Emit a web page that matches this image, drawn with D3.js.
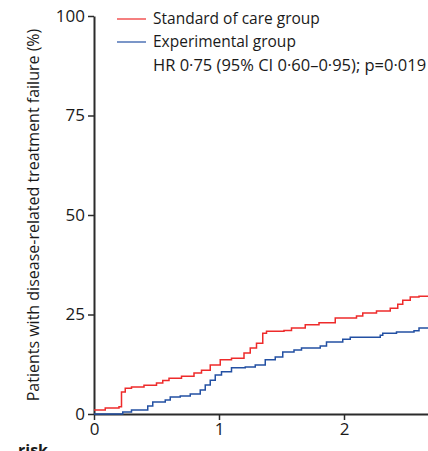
<!DOCTYPE html>
<html>
<head>
<meta charset="utf-8">
<script src="https://cdn.jsdelivr.net/npm/d3@7"></script>
<style>
  body { margin: 0; background: #fff; }
  text { font-family: "Open Sans", sans-serif; fill: #1a1a1a; }
</style>
</head>
<body>
<svg id="chart" width="428" height="451"></svg>
<script>
// cumulative incidence (years, %)
var careTimes = [0, 0.09, 0.2, 0.22, 0.25, 0.3, 0.4, 0.5, 0.55, 0.6, 0.7, 0.8, 0.86, 0.93, 1.01, 1.1, 1.2, 1.25, 1.3, 1.35, 1.38, 1.52, 1.58, 1.69, 1.8, 1.93, 2.1, 2.15, 2.26, 2.37, 2.43, 2.47, 2.53, 2.6, 2.7];
var careValues = [1.0, 1.5, 1.8, 5.5, 6.5, 6.8, 7.2, 7.8, 8.4, 9.0, 9.5, 10.3, 11.0, 12.3, 13.6, 14.0, 15.3, 16.6, 17.8, 20.3, 20.8, 21.0, 21.6, 22.4, 22.9, 24.1, 24.6, 25.4, 25.9, 26.6, 27.6, 28.6, 29.4, 29.6, 29.6];
var expTimes = [0, 0.23, 0.3, 0.43, 0.47, 0.57, 0.61, 0.69, 0.77, 0.85, 0.89, 0.93, 0.97, 1.02, 1.1, 1.21, 1.29, 1.37, 1.45, 1.51, 1.6, 1.66, 1.81, 1.86, 1.99, 2.05, 2.29, 2.31, 2.42, 2.56, 2.6, 2.7];
var expValues = [0, 0.5, 1.0, 2.0, 3.0, 3.5, 4.3, 4.5, 5.0, 6.0, 7.3, 8.5, 9.8, 10.6, 11.6, 11.8, 12.3, 13.6, 14.3, 15.6, 16.1, 16.6, 17.1, 18.1, 18.8, 19.3, 19.8, 20.3, 20.6, 20.9, 21.6, 21.6];
var yTicks = [0, 25, 50, 75, 100];
var xTicks = [0, 1, 2];
var legendLabels = ["Standard of care group", "Experimental group"];
var statsLabel = "HR 0·75 (95% CI 0·60–0·95); p=0·019";
var yTitle = "Patients with disease-related treatment failure (%)";

var svg = d3.select("#chart");
var x0 = 94, y0 = 414;

var x = d3.scaleLinear().domain([0, 2.7]).range([x0, x0 + 2.7 * 125]);
var y = d3.scaleLinear().domain([0, 100]).range([y0, 16]);

var line = d3.line()
    .x(function(d) { return x(d[0]); })
    .y(function(d) { return y(d[1]); })
    .curve(d3.curveStepAfter);

var series = [
    {name: legendLabels[0], color: "#ee2b2b", pts: d3.zip(careTimes, careValues)},
    {name: legendLabels[1], color: "#2350a3", pts: d3.zip(expTimes, expValues)}
];

// axes
var yAxis = svg.append("g")
    .attr("transform", "translate(" + x0 + ",0)")
    .call(d3.axisLeft(y).tickValues(yTicks).tickFormat(d3.format("d"))
        .tickSize(6).tickPadding(3).tickSizeOuter(0));
var xAxis = svg.append("g")
    .attr("transform", "translate(0," + y0 + ")")
    .call(d3.axisBottom(x).tickValues(xTicks).tickFormat(d3.format("d"))
        .tickSize(6).tickPadding(3).tickSizeOuter(0));

[yAxis, xAxis].forEach(function(a) {
    a.selectAll(".domain").attr("stroke", "#2b2b2b").attr("stroke-width", 2);
    a.selectAll(".tick line").attr("stroke", "#2b2b2b").attr("stroke-width", 1.5);
    a.selectAll(".tick text").style("font-family", "'Open Sans', sans-serif")
        .style("font-size", "17px").attr("fill", "#1a1a1a");
});

series.forEach(function(s) {
    svg.append("path")
        .datum(s.pts)
        .attr("fill", "none")
        .attr("stroke", s.color)
        .attr("stroke-width", 1.5)
        .attr("d", line);
});

// y title
svg.append("text")
    .attr("transform", "translate(39,215) rotate(-90)")
    .attr("text-anchor", "middle")
    .style("font-size", "16px")
    .text(yTitle);

// legend
var legend = svg.selectAll(".legend")
    .data(series)
    .enter().append("g")
    .attr("class", "legend")
    .attr("transform", function(d, i) { return "translate(117," + (19 + i * 23) + ")"; });

legend.append("line")
    .attr("x1", 0).attr("x2", 29)
    .attr("stroke", function(d) { return d.color; })
    .attr("stroke-width", 1.2);

legend.append("text")
    .attr("x", 36)
    .attr("dy", "0.35em")
    .style("font-size", "15.5px")
    .text(function(d) { return d.name; });

svg.append("text")
    .attr("x", 153)
    .attr("y", 65)
    .attr("dy", "0.35em")
    .style("font-size", "16.5px")
    .text(statsLabel);

// cut-off heading of the at-risk table
svg.append("text")
    .attr("x", 18)
    .attr("y", 456)
    .style("font-size", "16px")
    .style("font-weight", "bold")
    .text("risk");
</script>
</body>
</html>
